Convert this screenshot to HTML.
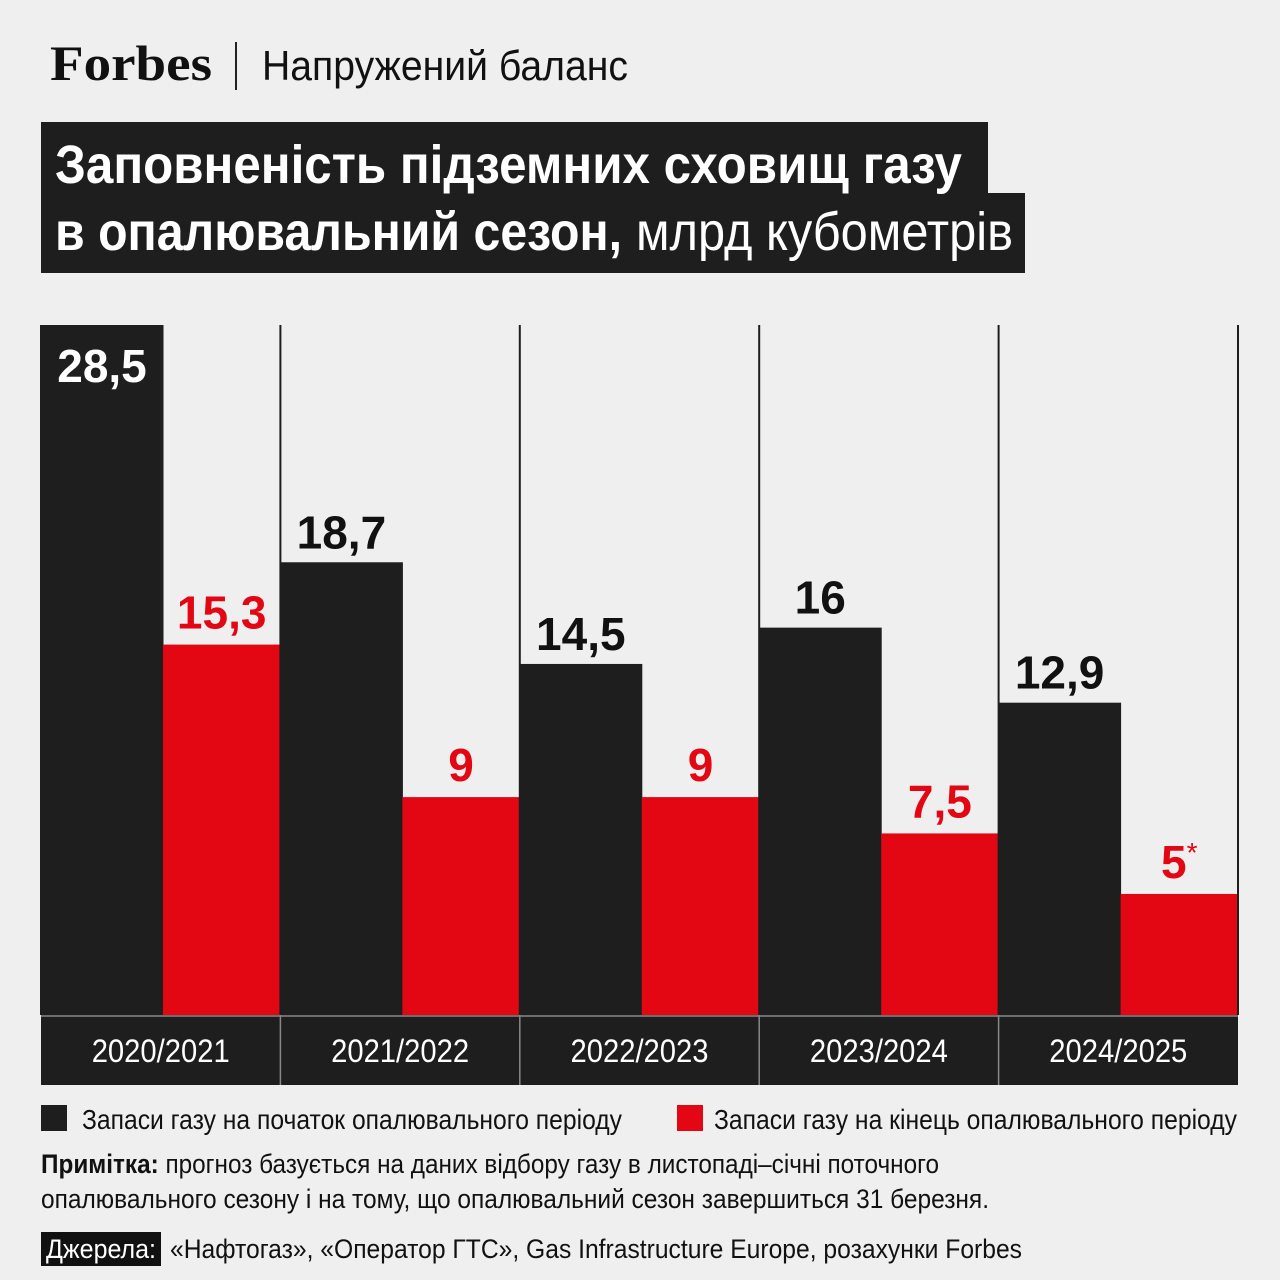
<!DOCTYPE html>
<html><head><meta charset="utf-8"><style>
html,body{margin:0;padding:0;background:#efefef}
svg{display:block}
text{font-family:"Liberation Sans Narrow","Liberation Sans","DejaVu Sans Condensed",sans-serif}
</style></head><body>
<svg id="chart" width="1280" height="1280" viewBox="0 0 1280 1280">
<rect width="1280" height="1280" fill="#efefef"/>
<text x="50" y="80" font-weight="bold" font-size="50" textLength="162" lengthAdjust="spacingAndGlyphs" fill="#111" style="font-family:'Liberation Serif',serif">Forbes</text>
<rect x="235" y="42" width="2" height="48" fill="#222"/>
<text x="262" y="80" font-size="42" textLength="366" lengthAdjust="spacingAndGlyphs" fill="#111">Напружений баланс</text>
<rect x="41" y="122" width="947" height="72" fill="#1e1e1e"/>
<rect x="41" y="193" width="984" height="80" fill="#1e1e1e"/>
<text x="55" y="183" font-size="54" font-weight="bold" fill="#fff" textLength="907" lengthAdjust="spacingAndGlyphs">Заповненість підземних сховищ газу</text>
<text x="55" y="250" font-size="54" font-weight="bold" fill="#fff" textLength="567" lengthAdjust="spacingAndGlyphs">в опалювальний сезон,</text>
<text x="636" y="250" font-size="54" fill="#fff" textLength="377" lengthAdjust="spacingAndGlyphs">млрд кубометрів</text>
<g id="plot"></g>
<rect x="41" y="1105" width="26" height="26" fill="#1e1e1e"/>
<text x="82" y="1129" font-size="28" fill="#111" textLength="540" lengthAdjust="spacingAndGlyphs">Запаси газу на початок опалювального періоду</text>
<rect x="677" y="1105" width="26" height="26" fill="#e30613"/>
<text x="714" y="1129" font-size="28" fill="#111" textLength="523" lengthAdjust="spacingAndGlyphs">Запаси газу на кінець опалювального періоду</text>
<text x="41" y="1173" font-size="27" fill="#111" textLength="898" lengthAdjust="spacingAndGlyphs"><tspan font-weight="bold">Примітка:</tspan> прогноз базується на даних відбору газу в листопаді–січні поточного</text>
<text x="41" y="1208" font-size="27" fill="#111" textLength="948" lengthAdjust="spacingAndGlyphs">опалювального сезону і на тому, що опалювальний сезон завершиться 31 березня.</text>
<rect x="41" y="1232" width="120" height="34" fill="#111"/>
<text x="46" y="1258" font-size="27" fill="#fff" textLength="110" lengthAdjust="spacingAndGlyphs">Джерела:</text>
<text x="170" y="1258" font-size="27" fill="#111" textLength="852" lengthAdjust="spacingAndGlyphs">«Нафтогаз», «Оператор ГТС», Gas Infrastructure Europe, розахунки Forbes</text>
</svg>
<script>
const categories = ["2020/2021","2021/2022","2022/2023","2023/2024","2024/2025"];
const startValues = [28.5,18.7,14.5,16,12.9];
const endValues = [15.3,9,9,7.5,5];
const startLabels = ["28,5","18,7","14,5","16","12,9"];
const endLabels = ["15,3","9","9","7,5","5*"];

(function(){
const NS="http://www.w3.org/2000/svg";
const g=document.getElementById('plot');
const pLeft=41,pRight=1238,pTop=325,pBase=1015,yMax=28.5;
const bw=(pRight-pLeft)/categories.length;
function y(v){return pBase-(v/yMax)*(pBase-pTop);}
function xg(i){return pLeft+i*bw;}
function mk(tag,attrs){const e=document.createElementNS(NS,tag);for(const k in attrs)e.setAttribute(k,attrs[k]);g.appendChild(e);return e;}
categories.forEach((c,i)=>{
  const x0=xg(i),bBlack=122,bRed=bw-bBlack;
  const b1=mk('rect',{x:x0,y:y(startValues[i]),width:bBlack+0.5,height:pBase-y(startValues[i]),fill:'#1e1e1e'});
  
  
  const b2=mk('rect',{x:x0+bBlack,y:y(endValues[i]),width:bRed,height:pBase-y(endValues[i]),fill:'#e30613'});
  
  
  const inside = y(startValues[i])-pTop<50;
  const t1=mk('text',{x:x0+bBlack/2,y:inside?y(startValues[i])+57:y(startValues[i])-14,'text-anchor':'middle','font-size':46,'font-weight':'bold',fill:inside?'#fff':'#111'});
  t1.textContent=startLabels[i];
  
  
  const lab=endLabels[i];
  const t2=mk('text',{x:x0+bBlack+bRed/2,y:y(endValues[i])-16,'text-anchor':'middle','font-size':46,'font-weight':'bold',fill:'#e30613'});
  if(lab.endsWith('*')){t2.textContent=lab.slice(0,-1);const s=document.createElementNS(NS,'tspan');s.setAttribute('dy','-16');s.setAttribute('font-size','28');s.setAttribute('font-weight','normal');s.textContent='*';t2.appendChild(s);}
  else t2.textContent=lab;
  
  
  const cb=mk('rect',{x:x0,y:pBase,width:bw,height:70,fill:'#1e1e1e'});
  
  
  const ct=mk('text',{x:x0+bw/2,y:pBase+47,'text-anchor':'middle','font-size':32,fill:'#fff',textLength:138,lengthAdjust:'spacingAndGlyphs'});
  ct.textContent=c;
  
  
});
for(let i=0;i<=categories.length;i++){
  const x=xg(i);
  const l=mk('line',{x1:x,x2:x,y1:pTop,y2:pBase,stroke:'#1e1e1e','stroke-width':2});
  
  
  if(i>0&&i<categories.length){
    const s=mk('line',{x1:x,x2:x,y1:pBase,y2:pBase+70,stroke:'#888','stroke-width':1.5});
    
    
  }
}
const bl=mk('line',{x1:pLeft,x2:pRight,y1:pBase+1,y2:pBase+1,stroke:'#888','stroke-width':1.5});


})();
</script>
</body></html>
